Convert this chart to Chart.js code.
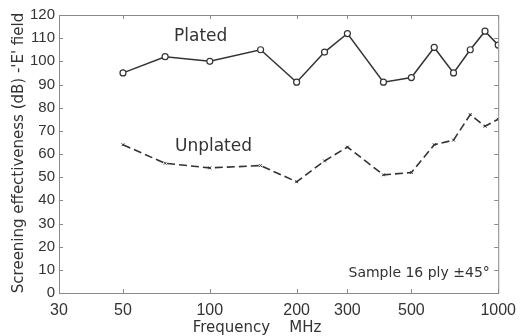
<!DOCTYPE html>
<html><head><meta charset="utf-8">
<script src="https://cdn.jsdelivr.net/npm/chart.js@4.4.1/dist/chart.umd.min.js"></script>
<style>html,body{margin:0;padding:0;background:#fff}#wrap{width:524px;height:336px}</style>
</head><body><div id="wrap"><canvas id="c" width="524" height="336"></canvas></div>
<script>
const frequencies = [50, 70, 100, 150, 200, 250, 300, 400, 500, 600, 700, 800, 900, 1000];
const plated =      [95, 102, 100, 105, 91, 104, 112, 91, 93, 106, 95, 105, 113, 107];
const unplated =    [64, 56, 54, 55, 48, 57, 63, 51, 52, 64, 66, 77, 72, 75];
const xTicks = [30, 50, 100, 200, 300, 500, 1000];
const yTicks = [0, 10, 20, 30, 40, 50, 60, 70, 80, 90, 100, 110, 120];
const labels = { plated: 'Plated', unplated: 'Unplated', sample: 'Sample 16 ply \u00b145\u00b0',
  xTitle: 'Frequency    MHz', yTitle: "Screening effectiveness (dB) -'E' field" };

const INK = '#333333', FRAME = '#8a8a8a';
const TEXT_FAMILY = '"DejaVu Sans", Verdana, sans-serif';
const TICK_FAMILY = '"Liberation Sans", Arial, sans-serif';

const deco = {
  id: 'deco',
  afterDraw(chart) {
    const { ctx, chartArea: a, scales: { x, y } } = chart;
    ctx.save();
    ctx.strokeStyle = FRAME; ctx.lineWidth = 1;
    ctx.strokeRect(a.left + 0.5, a.top + 0.5, a.right - a.left, a.bottom - a.top);
    ctx.beginPath();
    xTicks.forEach(v => { const px = Math.round(x.getPixelForValue(v)) + 0.5;
      ctx.moveTo(px, a.bottom); ctx.lineTo(px, a.bottom - 4);
      ctx.moveTo(px, a.top); ctx.lineTo(px, a.top + 4); });
    yTicks.forEach(v => { const py = Math.round(y.getPixelForValue(v)) + 0.5;
      ctx.moveTo(a.left, py); ctx.lineTo(a.left + 4, py);
      ctx.moveTo(a.right, py); ctx.lineTo(a.right - 4, py); });
    ctx.stroke();
    ctx.fillStyle = INK; ctx.textBaseline = 'middle';
    ctx.textAlign = 'center';
    ctx.font = '17px ' + TEXT_FAMILY;
    ctx.fillText(labels.plated, x.getPixelForValue(93), y.getPixelForValue(110.5));
    ctx.fillText(labels.unplated, x.getPixelForValue(103), y.getPixelForValue(63));
    ctx.font = '14px ' + TEXT_FAMILY;
    ctx.textAlign = 'right';
    ctx.fillText(labels.sample, x.getPixelForValue(935), y.getPixelForValue(8.6));
    ctx.font = '15px ' + TEXT_FAMILY;
    ctx.textAlign = 'center';
    ctx.fillText(labels.xTitle, 257, 328);
    ctx.translate(19, 153); ctx.rotate(-Math.PI / 2);
    ctx.fillText(labels.yTitle, 0, 0);
    ctx.restore();
  }
};

new Chart(document.getElementById('c'), {
  type: 'line',
  data: {
    labels: frequencies,
    datasets: [
      { label: labels.plated, data: frequencies.map((f, i) => ({ x: f, y: plated[i] })),
        borderColor: INK, borderWidth: 1.5, pointStyle: 'circle', pointRadius: 3,
        pointBackgroundColor: '#fff', pointBorderColor: INK, pointBorderWidth: 1.2, tension: 0 },
      { label: labels.unplated, data: frequencies.map((f, i) => ({ x: f, y: unplated[i] })),
        borderColor: INK, borderWidth: 1.6, borderDash: [8, 4], pointStyle: 'crossRot', pointRadius: 2,
        pointBorderColor: INK, pointBorderWidth: 1, tension: 0 }
    ]
  },
  options: {
    responsive: false, animation: false, devicePixelRatio: 1,
    layout: { padding: { top: 15, right: 20, left: 0, bottom: 0 } },
    plugins: { legend: { display: false }, tooltip: { enabled: false } },
    scales: {
      x: { type: 'logarithmic', min: 30, max: 1000,
        afterBuildTicks: s => { s.ticks = xTicks.map(v => ({ value: v })); },
        afterFit: s => { s.height = 43; },
        ticks: { color: INK, font: { family: TICK_FAMILY, size: 16 },
          padding: 8, maxRotation: 0, autoSkip: false, callback: v => String(v) },
        grid: { display: false, drawTicks: false }, border: { display: false } },
      y: { type: 'linear', min: 0, max: 120,
        afterBuildTicks: s => { s.ticks = yTicks.map(v => ({ value: v })); },
        afterFit: s => { s.width = 59; },
        ticks: { color: INK, font: { family: TICK_FAMILY, size: 15 },
          padding: 4, autoSkip: false },
        grid: { display: false, drawTicks: false }, border: { display: false } }
    }
  },
  plugins: [deco]
});
</script></body></html>
